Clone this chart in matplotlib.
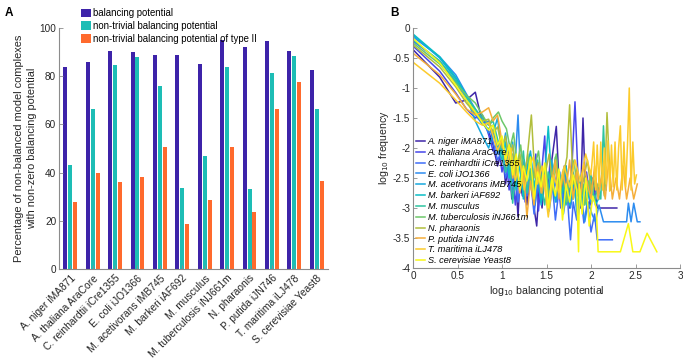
import numpy as np
import matplotlib
matplotlib.use('Agg')
import matplotlib.pyplot as plt
from matplotlib.ticker import FormatStrFormatter

plt.rcParams['font.family'] = ['Liberation Sans', 'DejaVu Sans']
plt.rcParams['axes.unicode_minus'] = False

# ---- panel A data ----
models = ['A. niger iMA871', 'A. thaliana AraCore', 'C. reinhardtii iCre1355',
          'E. coli iJO1366', 'M. acetivorans iMB745', 'M. barkeri iAF692',
          'M. musculus', 'M. tuberculosis iNJ661m', 'N. pharaonis',
          'P. putida iJN746', 'T. maritima iLJ478', 'S. cerevisiae Yeast8']
balancing = [84, 86, 90.5, 90, 89, 89, 85, 95, 92, 94.5, 90.5, 82.5]
nontrivial = [43, 66.5, 84.5, 88, 76, 33.5, 47, 84, 33, 81.5, 88.5, 66.5]
type2 = [28, 40, 36, 38, 50.5, 18.5, 28.5, 50.5, 23.5, 66.5, 77.5, 36.5]
bar_labels = ['balancing potential', 'non-trivial balancing potential',
              'non-trivial balancing potential of type II']

# ---- panel B data (log10 balancing potential, log10 frequency) ----
x_niger = [0, 0.30, 0.48, 0.60, 0.70, 0.78, 0.85, 0.90, 0.95, 1.00, 1.04, 1.08, 1.11, 1.15, 1.18, 1.20, 1.23, 1.26, 1.28, 1.32,
           1.36, 1.39, 1.42, 1.45, 1.48, 1.52, 1.56, 1.61, 1.64, 1.68, 1.72, 1.76, 1.82, 1.85, 1.88, 1.91, 1.94, 1.98, 2.02, 2.07, 2.29]
y_niger = [-0.36, -0.82, -1.25, -1.20, -1.07, -1.58, -1.72, -1.95, -2.30, -2.00, -2.60, -2.20, -2.85, -2.40, -3.15, -2.55, -2.80, -2.30, -2.95, -2.50,
           -3.00, -3.30, -2.60, -3.00, -2.40, -2.85, -2.20, -1.64, -2.55, -2.95, -2.30, -3.00, -2.60, -2.60, -3.00, -1.50, -2.80, -3.00, -2.50, -3.00, -3.00]
x_thal = [0, 0.30, 0.48, 0.60, 0.70, 0.78, 0.85, 0.90, 0.95, 1.00, 1.04, 1.08, 1.11, 1.15, 1.18, 1.20, 1.23, 1.26, 1.30, 1.34,
          1.38, 1.41, 1.44, 1.48, 1.51, 1.54, 1.58, 1.62, 1.66, 1.70, 1.74, 1.78, 1.82, 1.86, 1.90, 1.95, 2.00, 2.05]
y_thal = [-0.30, -0.72, -1.08, -1.35, -1.50, -1.45, -1.78, -2.05, -1.90, -2.40, -2.10, -2.70, -2.30, -2.95, -2.45, -2.75, -2.35, -2.90, -2.20, -2.70,
          -2.10, -3.05, -2.50, -1.80, -2.90, -2.20, -2.75, -2.40, -3.00, -2.30, -2.85, -2.50, -1.23, -2.70, -2.95, -2.40, -2.95, -2.70]
x_crei = [0, 0.30, 0.48, 0.60, 0.70, 0.78, 0.85, 0.90, 0.95, 1.00, 1.04, 1.08, 1.11, 1.15, 1.18, 1.23, 1.28, 1.32, 1.36, 1.40,
          1.44, 1.48, 1.52, 1.56, 1.60, 1.64, 1.68, 1.72, 1.75, 1.77, 1.80, 1.84, 1.88, 1.92, 1.96, 2.00, 2.04, 2.07, 2.24]
y_crei = [-0.22, -0.55, -0.90, -1.20, -1.45, -1.60, -1.55, -1.90, -2.20, -2.05, -2.50, -2.30, -2.75, -2.45, -2.90, -2.40, -2.80, -2.50, -3.10, -2.60,
          -2.90, -2.35, -2.80, -2.50, -3.20, -2.70, -2.95, -2.45, -3.15, -3.53, -2.90, -3.20, -2.70, -3.25, -2.90, -3.40, -3.10, -3.53, -3.53]
x_coli = [0, 0.30, 0.48, 0.60, 0.70, 0.78, 0.85, 0.90, 0.95, 1.00, 1.04, 1.08, 1.11, 1.15, 1.18, 1.21, 1.25, 1.29, 1.33, 1.37,
          1.41, 1.45, 1.49, 1.53, 1.57, 1.61, 1.65, 1.69, 1.73, 1.77, 1.81, 1.85, 1.89, 1.93, 1.97, 2.01, 2.05, 2.09, 2.14,
          2.40, 2.42, 2.45, 2.48, 2.52, 2.55]
y_coli = [-0.15, -0.48, -0.78, -1.10, -1.35, -1.55, -1.75, -1.70, -2.10, -1.85, -2.40, -2.00, -2.60, -2.20, -1.45, -2.50, -2.20, -2.75, -2.40, -2.95,
          -2.50, -2.80, -2.30, -3.05, -2.60, -2.90, -2.40, -3.10, -2.70, -3.00, -2.55, -3.20, -2.80, -3.23, -2.90, -3.10, -3.23, -2.95, -3.23,
          -3.23, -2.92, -3.23, -2.92, -3.23, -3.23]
x_acet = [0, 0.30, 0.48, 0.60, 0.70, 0.78, 0.85, 0.90, 0.95, 1.00, 1.04, 1.08, 1.12, 1.16, 1.20, 1.24, 1.28, 1.32, 1.36, 1.40,
          1.44, 1.48, 1.52, 1.56, 1.60, 1.64, 1.68, 1.72, 1.76, 1.80, 1.84, 1.88, 1.92, 1.96, 2.00]
y_acet = [-0.12, -0.50, -0.85, -1.15, -1.55, -1.80, -2.00, -1.75, -1.50, -2.10, -1.75, -2.30, -1.90, -2.60, -2.15, -2.80, -2.35, -2.05, -2.70, -2.30,
          -2.95, -2.40, -2.75, -2.20, -2.90, -2.50, -3.00, -2.60, -2.85, -2.40, -3.05, -2.70, -2.95, -2.60, -2.90]
x_bark = [0, 0.30, 0.48, 0.60, 0.70, 0.78, 0.85, 0.90, 0.95, 1.00, 1.04, 1.08, 1.12, 1.16, 1.20, 1.24, 1.28, 1.32, 1.36, 1.40,
          1.44, 1.48, 1.52, 1.56, 1.60, 1.64, 1.68, 1.72, 1.76, 1.80, 1.85, 1.90, 1.95, 2.00, 2.05, 2.10]
y_bark = [-0.10, -0.48, -0.82, -1.12, -1.40, -1.60, -1.68, -1.62, -1.95, -2.20, -1.90, -2.50, -2.10, -2.70, -2.25, -2.85, -2.40, -2.10, -2.65, -2.35,
          -2.90, -2.45, -1.64, -2.60, -2.85, -2.40, -2.75, -2.30, -2.95, -2.55, -2.90, -2.70, -2.95, -2.60, -2.95, -2.80]
x_musc = [0, 0.30, 0.48, 0.60, 0.70, 0.78, 0.85, 0.90, 0.95, 1.00, 1.04, 1.08, 1.12, 1.16, 1.20, 1.24, 1.28, 1.32, 1.36, 1.40,
          1.44, 1.48, 1.52, 1.56, 1.60, 1.64, 1.68, 1.72, 1.76, 1.80, 1.84, 1.88, 1.92, 1.96, 2.00, 2.04, 2.08, 2.11, 2.14, 2.17]
y_musc = [-0.20, -0.55, -0.88, -1.15, -1.35, -1.50, -1.62, -1.55, -1.85, -2.10, -2.40, -2.15, -2.92, -2.30, -2.60, -2.05, -2.75, -2.35, -2.85, -2.20,
          -2.60, -2.95, -2.40, -2.70, -2.15, -2.80, -2.45, -2.95, -2.55, -2.85, -2.35, -2.95, -2.60, -2.80, -2.45, -2.90, -2.60, -2.85, -1.63, -2.70]
x_tube = [0, 0.30, 0.48, 0.60, 0.70, 0.78, 0.85, 0.90, 0.96, 1.00, 1.05, 1.09, 1.13, 1.17, 1.21, 1.25, 1.29, 1.33, 1.37, 1.41,
          1.45, 1.49, 1.53, 1.57, 1.61, 1.65, 1.69, 1.73, 1.77, 1.81, 1.85, 1.89, 1.93, 1.97, 2.01, 2.05, 2.09]
y_tube = [-0.25, -0.60, -0.92, -1.12, -1.25, -1.45, -1.62, -1.50, -1.40, -1.55, -1.68, -2.00, -1.75, -2.30, -1.95, -2.55, -2.10, -2.70, -2.30, -2.05,
          -2.60, -2.25, -2.85, -2.40, -2.10, -2.75, -2.35, -2.90, -2.50, -2.20, -2.80, -2.45, -2.95, -2.55, -2.80, -2.50, -2.85]
x_phar = [0, 0.30, 0.48, 0.60, 0.70, 0.78, 0.85, 0.90, 0.95, 1.00, 1.04, 1.08, 1.12, 1.16, 1.20, 1.24, 1.28, 1.33, 1.37, 1.41,
          1.45, 1.49, 1.53, 1.57, 1.61, 1.65, 1.69, 1.73, 1.76, 1.80, 1.84, 1.88, 1.92, 1.96, 2.00, 2.04, 2.08, 2.12, 2.15, 2.18, 2.22]
y_phar = [-0.28, -0.65, -0.98, -1.25, -1.42, -1.55, -1.52, -1.75, -1.65, -2.00, -1.80, -2.25, -1.95, -2.45, -2.10, -2.60, -2.20, -1.45, -2.50, -2.25,
          -2.75, -2.40, -2.10, -2.65, -2.30, -2.80, -2.45, -2.15, -1.28, -2.60, -2.35, -2.80, -2.50, -2.20, -2.70, -2.40, -2.75, -2.50, -2.80, -1.41, -2.70]
x_puti = [0, 0.30, 0.48, 0.60, 0.70, 0.78, 0.85, 0.90, 0.95, 1.00, 1.04, 1.08, 1.12, 1.16, 1.20, 1.24, 1.28, 1.32, 1.36, 1.40,
          1.44, 1.48, 1.52, 1.56, 1.60, 1.64, 1.68, 1.72, 1.76, 1.80, 1.84, 1.88, 1.92, 1.96, 2.00, 2.04, 2.08, 2.12, 2.16, 2.20,
          2.24, 2.28, 2.32, 2.36, 2.40, 2.44, 2.48, 2.52]
y_puti = [-0.42, -0.78, -1.10, -1.35, -1.45, -1.40, -1.33, -1.55, -1.45, -1.90, -2.20, -1.95, -2.50, -2.15, -2.75, -2.35, -3.15, -2.55, -2.95, -2.30,
          -2.75, -2.45, -3.00, -2.55, -2.20, -2.85, -2.40, -2.70, -2.20, -2.85, -2.40, -2.85, -2.25, -2.60, -2.85, -2.30, -2.85, -2.45, -2.85, -2.20,
          -2.85, -2.50, -2.85, -2.30, -2.85, -2.50, -2.85, -2.60]
x_mari = [0, 0.30, 0.48, 0.60, 0.70, 0.78, 0.85, 0.90, 0.95, 1.00, 1.05, 1.10, 1.15, 1.20, 1.25, 1.30, 1.35, 1.40, 1.45, 1.52,
          1.58, 1.64, 1.70, 1.76, 1.82, 1.88, 1.94, 2.00, 2.03, 2.05, 2.07, 2.09, 2.11, 2.13, 2.15, 2.17, 2.19, 2.21, 2.23, 2.25,
          2.27, 2.29, 2.31, 2.33, 2.35, 2.37, 2.39, 2.41, 2.43, 2.45, 2.47, 2.49, 2.51]
y_mari = [-0.57, -0.92, -1.20, -1.40, -1.55, -1.62, -1.58, -1.80, -2.05, -1.85, -2.30, -2.00, -2.55, -2.20, -2.70, -2.35, -2.15, -2.60, -2.30, -3.15,
          -2.45, -2.75, -2.30, -2.65, -2.20, -2.55, -2.10, -2.45, -1.90, -2.70, -1.95, -2.65, -1.90, -2.70, -2.00, -2.60, -1.88, -2.72, -1.95, -2.65,
          -1.90, -2.70, -2.00, -1.63, -2.70, -1.90, -2.65, -1.95, -1.00, -2.70, -1.90, -2.60, -2.45]
x_cere = [0, 0.30, 0.48, 0.60, 0.70, 0.78, 0.85, 0.90, 0.95, 1.00, 1.04, 1.08, 1.12, 1.16, 1.20, 1.24, 1.28, 1.32, 1.36, 1.40,
          1.44, 1.48, 1.52, 1.56, 1.60, 1.64, 1.68, 1.72, 1.76, 1.80, 1.84, 1.86, 1.87, 1.90, 1.94, 1.98, 2.02, 2.06, 2.08, 2.33,
          2.42, 2.47, 2.55, 2.63, 2.74]
y_cere = [-0.17, -0.58, -0.95, -1.20, -1.40, -1.58, -1.70, -1.62, -1.95, -1.80, -2.20, -1.95, -2.45, -2.10, -2.70, -2.30, -2.55, -2.15, -2.85, -2.40,
          -2.65, -2.25, -3.00, -2.50, -2.80, -2.35, -3.20, -2.60, -2.90, -2.45, -2.70, -3.73, -2.60, -3.10, -2.50, -3.30, -2.80, -3.00, -3.73, -3.73,
          -3.26, -3.73, -3.73, -3.42, -3.73]

xs = [x_niger, x_thal, x_crei, x_coli, x_acet, x_bark, x_musc, x_tube, x_phar, x_puti, x_mari, x_cere]
ys = [y_niger, y_thal, y_crei, y_coli, y_acet, y_bark, y_musc, y_tube, y_phar, y_puti, y_mari, y_cere]

parula12 = ['#3E26A8', '#4746EB', '#3F6DF8', '#2C8CF0', '#17A8DE', '#0ABDC6',
            '#2EC4A0', '#6DC86A', '#B1BE3C', '#F5AE3A', '#FCCB2C', '#F8F817']
bar_colors = ['#3D23A9', '#1DBDB5', '#FF6A2D']
axis_col = '#262626'

fig = plt.figure(figsize=(6.83, 3.62), dpi=100)

# ---------- A ----------
axA = fig.add_axes([59/683, 1-269/362, 269/683, 241/362])
pos = np.arange(1, len(models)+1)
w = 0.18
hb = []
for off, vals, c in zip([-0.22, 0, 0.22], [balancing, nontrivial, type2], bar_colors):
    hb.append(axA.bar(pos+off, vals, w, color=c, edgecolor='none'))
axA.set_xlim(0.5, 12.5)
axA.set_ylim(0, 100)
axA.set_yticks([0, 20, 40, 60, 80, 100])
axA.set_xticks(pos)
axA.set_xticklabels(models, rotation=45, ha='right', va='top', rotation_mode='anchor')
axA.set_ylabel('Percentage of non-balanced model complexes\nwith non-zero balancing potential',
               fontsize=7.9, color=axis_col, labelpad=2, linespacing=1.35)
fig.legend(hb, bar_labels, loc='upper left', bbox_to_anchor=(81/683, 1-8/362), frameon=False,
           fontsize=6.9, handlelength=1.0, handleheight=0.95, handletextpad=0.25,
           labelspacing=0.3, borderpad=0, borderaxespad=0)

# ---------- B ----------
axB = fig.add_axes([413/683, 1-268/362, 267/683, 240/362])
for x, y, c, name in zip(xs, ys, parula12, models):
    axB.plot(x, y, color=c, lw=1.1, label=name)
axB.set_xlim(0, 3)
axB.set_ylim(-4, 0)
axB.set_xticks(np.arange(0, 3.01, 0.5))
axB.set_yticks(np.arange(-4, 0.01, 0.5))
axB.xaxis.set_major_formatter(FormatStrFormatter('%g'))
axB.yaxis.set_major_formatter(FormatStrFormatter('%g'))
axB.set_xlabel('log$_{10}$ balancing potential', fontsize=7.6, color=axis_col, labelpad=2)
axB.set_ylabel('log$_{10}$ frequency', fontsize=7.6, color=axis_col, labelpad=1)
leg = axB.legend(loc='lower left', bbox_to_anchor=(0.0, 0.0), frameon=False,
                 prop={'size': 6.6, 'style': 'italic'}, handlelength=1.0,
                 handletextpad=0.3, labelspacing=0.2, borderpad=0.2, borderaxespad=0.1)

for ax in (axA, axB):
    for s in ('top', 'right'):
        ax.spines[s].set_visible(False)
    for s in ('left', 'bottom'):
        ax.spines[s].set_color('#8c8c8c')
        ax.spines[s].set_linewidth(0.8)
    ax.tick_params(direction='in', length=3, width=0.6, color='#8c8c8c',
                   labelsize=7.2, labelcolor=axis_col, pad=2)
axA.tick_params(axis='x', labelsize=7.4, pad=3)

fig.text(5/683, 1-13/362, 'A', fontsize=8.5, fontweight='bold', va='center')
fig.text(390/683, 1-13/362, 'B', fontsize=8.5, fontweight='bold', va='center')

fig.savefig('out.png', dpi=100)
